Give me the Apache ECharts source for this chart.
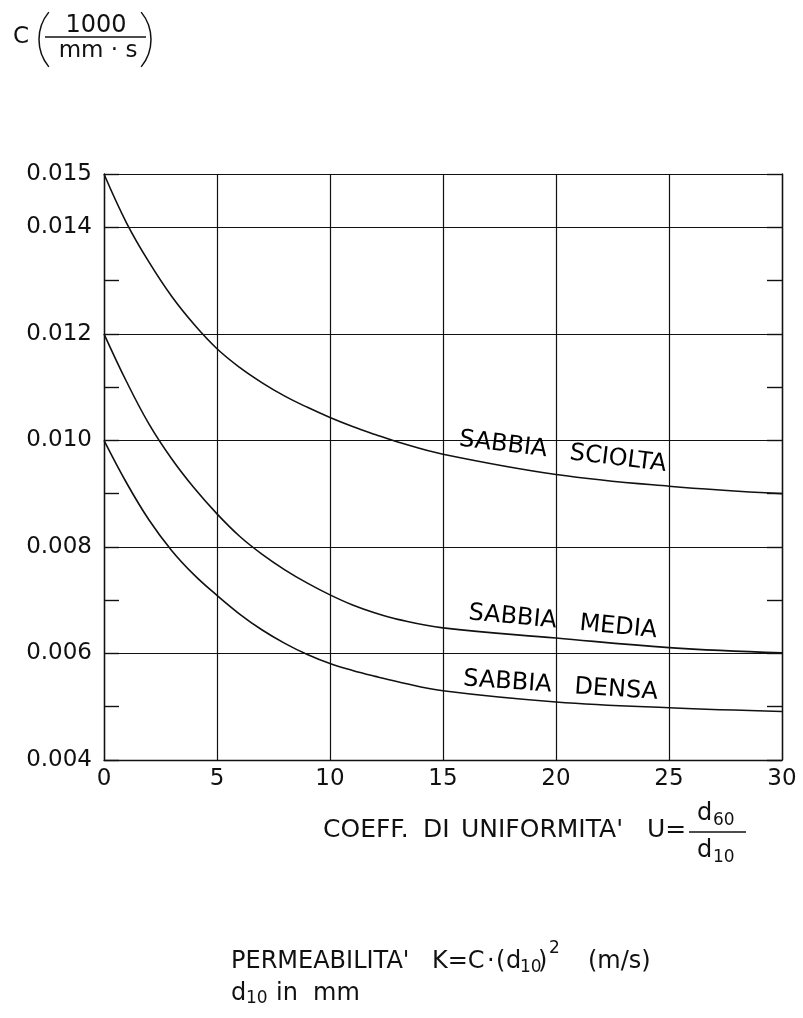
<!DOCTYPE html>
<html>
<head>
<meta charset="utf-8">
<script src="https://cdn.jsdelivr.net/npm/echarts@6/dist/echarts.min.js"></script>
<style>
  html, body { margin: 0; padding: 0; background: #ffffff; }
  #chart { width: 803px; height: 1018px; }
</style>
</head>
<body>
<div id="chart"></div>
<script>
// Coefficient C (1000/(mm·s)) against the uniformity coefficient U = d60/d10
const uValues = [0, 1, 2, 3, 4, 5, 6, 7, 8, 9, 10, 11, 12, 13, 15, 20, 25, 30];
const scioltaC = [0.01500, 0.01408, 0.01334, 0.01270, 0.01217, 0.01172, 0.01137, 0.01108, 0.01083,
                  0.01062, 0.01043, 0.01026, 0.01011, 0.00997, 0.00974, 0.00936, 0.00914, 0.00900];
const mediaC   = [0.01200, 0.01110, 0.01030, 0.00965, 0.00910, 0.00862, 0.00820, 0.00786, 0.00757,
                  0.00732, 0.00710, 0.00691, 0.00676, 0.00664, 0.00648, 0.00629, 0.00611, 0.00601];
const densaC   = [0.01000, 0.00920, 0.00850, 0.00793, 0.00747, 0.00709, 0.00674, 0.00644, 0.00619,
                  0.00598, 0.00581, 0.00568, 0.00557, 0.00547, 0.00530, 0.00509, 0.00498, 0.00491];

// Curve names, with the point (U, C) each name is centred on and its tilt
const curveNames = ['SABBIA   SCIOLTA', 'SABBIA   MEDIA', 'SABBIA   DENSA'];
const curveNameAt = [[20.3, 0.00978], [20.3, 0.00659], [20.2, 0.00539]];
const curveNameTilt = [-7, -5.5, -4];

// Axis scales
const xTicks = [0, 30, 5];            // min, max, step
const yTicks = [0.004, 0.015, 0.002]; // min, max, labelled step
const yMinorStep = 0.001;

const ink = '#111111';
const font = '"DejaVu Sans", "Liberation Sans", sans-serif';

const chart = echarts.init(document.getElementById('chart'), null, { renderer: 'canvas' });

function curveSeries(name, values) {
  return {
    name: name,
    type: 'line',
    data: uValues.map(function (u, i) { return [u, values[i]]; }),
    smooth: 0.4,
    showSymbol: false,
    symbol: 'none',
    lineStyle: { color: ink, width: 1.6 },
    z: 5
  };
}

// Plain text piece for the annotations around the plot
function txt(x, y, text, size) {
  return {
    type: 'text', x: x, y: y, silent: true,
    style: { text: text, font: size + 'px ' + font, fill: ink, align: 'left', verticalAlign: 'middle' }
  };
}

const option = {
  backgroundColor: '#ffffff',
  animation: false,
  textStyle: { fontFamily: font, color: ink },
  grid: { left: 104, right: 21, top: 174, bottom: 258, containLabel: false, outerBoundsMode: 'none' },
  xAxis: {
    type: 'value',
    min: xTicks[0], max: xTicks[1], interval: xTicks[2],
    axisLine: { show: true, lineStyle: { color: ink, width: 1.4 } },
    axisTick: { show: false },
    splitLine: { show: true, lineStyle: { color: ink, width: 1.2 } },
    axisLabel: { fontSize: 23, color: ink, margin: 8, fontFamily: font }
  },
  yAxis: [
    {
      type: 'value',
      min: yTicks[0], max: yTicks[1], interval: yTicks[2],
      axisLine: { show: true, lineStyle: { color: ink, width: 1.4 } },
      axisTick: { show: false },
      splitLine: { show: true, lineStyle: { color: ink, width: 1.2 } },
      axisLabel: {
        fontSize: 23, color: ink, margin: 12, fontFamily: font,
        formatter: function (v) { return v.toFixed(3); }
      }
    },
    {
      type: 'value', position: 'left',
      min: yTicks[0], max: yTicks[1], interval: yMinorStep,
      axisLine: { show: false },
      axisTick: { show: true, inside: true, length: 15, lineStyle: { color: ink, width: 1.4 } },
      splitLine: { show: false },
      axisLabel: { show: false }
    },
    {
      type: 'value', position: 'right',
      min: yTicks[0], max: yTicks[1], interval: yMinorStep,
      axisLine: { show: true, lineStyle: { color: ink, width: 1.4 } },
      axisTick: { show: true, inside: true, length: 15, lineStyle: { color: ink, width: 1.4 } },
      splitLine: { show: false },
      axisLabel: { show: false }
    }
  ],
  series: [
    curveSeries('SABBIA SCIOLTA', scioltaC),
    curveSeries('SABBIA MEDIA', mediaC),
    curveSeries('SABBIA DENSA', densaC),
    {
      name: 'curve names',
      type: 'scatter',
      symbolSize: 1,
      itemStyle: { color: 'rgba(0,0,0,0)' },
      z: 6,
      data: curveNames.map(function (n, i) {
        return {
          name: n,
          value: curveNameAt[i],
          label: { rotate: curveNameTilt[i] }
        };
      }),
      label: {
        show: true,
        position: 'inside',
        formatter: '{b}',
        fontSize: 24,
        color: '#000000',
        opacity: 1,
        fontFamily: font
      },
      emphasis: { disabled: true },
      labelLayout: { hideOverlap: false }
    }
  ],
  graphic: [
    // Unit of C: C(1000 / mm·s)
    txt(13, 37, 'C', 23),
    { type: 'arc', silent: true,
      shape: { cx: 82, cy: 39.5, r: 43, startAngle: Math.PI - 0.69, endAngle: Math.PI + 0.69, clockwise: true },
      style: { stroke: ink, lineWidth: 1.5, fill: 'none' } },
    { type: 'arc', silent: true,
      shape: { cx: 108, cy: 39.5, r: 43, startAngle: -0.69, endAngle: 0.69, clockwise: true },
      style: { stroke: ink, lineWidth: 1.5, fill: 'none' } },
    { type: 'text', x: 96, y: 26, silent: true,
      style: { text: '1000', font: '24px ' + font, fill: ink, align: 'center', verticalAlign: 'middle' } },
    { type: 'line', silent: true, shape: { x1: 45, y1: 37, x2: 146, y2: 37 }, style: { stroke: ink, lineWidth: 1.5 } },
    { type: 'text', x: 98, y: 51, silent: true,
      style: { text: 'mm · s', font: '23px ' + font, fill: ink, align: 'center', verticalAlign: 'middle' } },

    // Axis name: COEFF. DI UNIFORMITA' U = d60/d10
    txt(323, 830, 'COEFF.', 25),
    txt(423, 830, 'DI', 25),
    txt(461, 830, "UNIFORMITA'", 25),
    txt(647, 830, 'U=', 25),
    { type: 'line', silent: true, shape: { x1: 689, y1: 832, x2: 746, y2: 832 }, style: { stroke: ink, lineWidth: 1.4 } },
    txt(697, 814, 'd', 24),
    txt(713, 821, '60', 17),
    txt(697, 851, 'd', 24),
    txt(713, 858, '10', 17),

    // Footnote: PERMEABILITA' K = C·(d10)^2 (m/s), d10 in mm
    txt(231, 962, "PERMEABILITA'", 24),
    txt(432, 962, 'K=C', 24),
    txt(487, 962, '·', 24),
    txt(496, 962, '(', 24),
    txt(506, 962, 'd', 24),
    txt(520, 968, '10', 17),
    txt(538, 962, ')', 24),
    txt(549, 949, '2', 17),
    txt(588, 962, '(m/s)', 24),
    txt(231, 994, 'd', 24),
    txt(246, 999, '10', 17),
    txt(276, 994, 'in', 24),
    txt(313, 994, 'mm', 24)
  ]
};

chart.setOption(option);
</script>
</body>
</html>
